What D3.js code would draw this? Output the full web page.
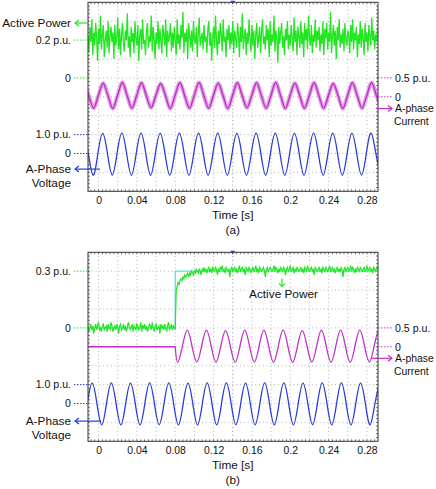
<!DOCTYPE html>
<html>
<head>
<meta charset="utf-8">
<script src="https://cdn.jsdelivr.net/npm/d3@7"></script>
<style>
  body { margin: 0; background: #fff; }
  text { font-family: Arial, "Liberation Sans", sans-serif; fill: #111; }
</style>
</head>
<body>
<div id="chart"></div>
<script>
/* CONSTANTS AND GLOBALS */
const width = 436,
  height = 489,
  plot = { left: 88, right: 378, height: 189 },
  panelTops = [2.3, 252.3],
  tStart = -0.011,
  tEnd = 0.2915;

const green = "#22e622", magenta = "#c22ec8", blue = "#2a3cd6", cyan = "#6adede";
const nameSize = 11.8, levelSize = 10.6, rightSize = 10.4, tickSize = 10.4;

/* DATA */
const timeTicks = [0, 0.04, 0.08, 0.12, 0.16, 0.2, 0.24, 0.28];
const timeTickLabels = ["0", "0.04", "0.08", "0.12", "0.16", "0.2", "0.24", "0.28"];
const gridTimes = [0, 0.02, 0.04, 0.06, 0.08, 0.1, 0.12, 0.14, 0.16, 0.18, 0.2, 0.22, 0.24, 0.26, 0.28];

// active power, p.u. x100, one sample per ms from t = -0.011 s
const powerStep = 0.001;
const powerA = [
  22,14,27,19,31,12,24,17,29,21,9,26,18,33,15,23,28,11,20,25,16,30,13,22,27,19,24,10,28,17,
  21,32,15,26,12,23,29,18,14,25,20,34,16,22,11,27,19,24,13,30,21,17,28,9,23,26,15,31,18,20,
  12,25,29,16,22,19,33,14,27,21,10,24,18,30,15,26,20,13,28,23,17,31,11,25,19,22,29,14,24,16,
  27,20,12,31,18,23,15,28,21,35,13,24,19,26,10,29,22,16,25,14,30,20,18,27,11,23,32,17,21,24,
  15,28,19,22,13,26,30,17,24,9,21,27,16,33,20,12,25,18,29,23,14,31,19,22,11,26,20,28,15,24,
  18,30,13,25,21,16,29,23,11,27,19,34,15,22,26,12,24,18,31,20,14,28,17,25,10,23,29,16,21,27,
  13,24,31,18,22,15,28,20,26,11,30,17,23,19,33,14,25,21,8,27,18,24,29,16,22,12,26,20,30,15,
  23,17,28,21,14,32,19,25,12,27,22,16,30,18,24,11,29,20,26,15,33,21,17,28,13,23,19,31,16,25,
  20,27,14,23,18,30,12,26,21,29,15,24,19,35,13,22,28,17,25,10,27,20,31,16,23,18,26,14,29,21,
  17,25,22,13,28,19,31,15,24,20,27,11,23,18,30,16,26,21,12,29,19,24,14,28,22,17,32,20,25,15,
  23,19,26
];
const powerB = [
  1,-2,0,2,-1,1,-3,0,2,-1, 1,3,-1,0,-2,1,2,-1,0,1, -2,2,0,-1,3,1,-2,0,1,-1,
  2,0,-3,1,2,-1,0,2,-1,1, -2,0,3,1,-1,0,2,-2,1,0, -1,2,1,-1,0,3,-2,1,0,2,
  -1,1,-2,0,2,1,-1,3,0,-2, 1,2,-1,0,1,-3,2,0,1,-1, 2,0,-2,1,3,-1,0,2,-1,1, 0,-1,
  20,22,24,23,25,26,25,27,26,28, 27,28,29,27,29,28,30,29,28,30, 29,31,30,29,31,30,28,31,30,32,
  30,31,29,31,32,30,31,29,32,31, 30,32,31,28,31,30,32,31,33,30, 31,29,32,31,30,31,27,31,32,30,
  31,32,30,31,29,31,33,30,31,32, 30,31,28,32,31,30,32,31,29,31, 32,30,31,33,30,31,29,32,31,30,
  31,32,30,27,31,32,30,31,32,31, 30,31,33,30,32,31,29,31,30,32, 31,30,32,31,28,31,32,30,31,33,
  30,31,32,29,31,30,32,31,30,31, 32,30,31,29,32,31,30,33,31,30, 31,32,30,31,28,32,31,30,31,32,
  30,31,29,32,31,30,32,31,30,31, 33,30,31,32,30,31,29,31,32,30, 31,30,32,31,27,31,32,30,31,32,
  30,31,33,30,32,31,29,31,30,32, 31,30,32,31,30,31,32,30,31,33, 30,31,32,30,31,29,32,31,30,32,31
];
// power reference step in (b)
const powerRefTimes = [-0.011, 0.08, 0.08, 0.2915];
const powerRefValues = [0, 0, 0.3, 0.3];

// quarter-period samples (every 5 ms), p.u.
const quarterStep = 0.005;
const currentAStart = -0.0152;
const currentA = [
  0.37,0.035,-0.30,0.035, 0.36,0.035,-0.31,0.035, 0.38,0.035,-0.30,0.035,
  0.37,0.035,-0.29,0.035, 0.35,0.035,-0.31,0.035, 0.37,0.035,-0.30,0.035,
  0.38,0.035,-0.30,0.035, 0.36,0.035,-0.31,0.035, 0.37,0.035,-0.29,0.035,
  0.37,0.035,-0.30,0.035, 0.38,0.035,-0.31,0.035, 0.36,0.035,-0.30,0.035,
  0.37,0.035,-0.30,0.035, 0.35,0.035,-0.31,0.035, 0.37,0.035,-0.30,0.035,
  0.37,0.035,-0.30
];
const voltageAStart = -0.0157;
const voltageA = [
  1.08,0,-1.15,0, 1.07,0,-1.14,0, 1.08,0,-1.15,0,
  1.08,0,-1.15,0, 1.07,0,-1.14,0, 1.08,0,-1.15,0,
  1.08,0,-1.14,0, 1.08,0,-1.15,0, 1.07,0,-1.15,0,
  1.08,0,-1.14,0, 1.08,0,-1.15,0, 1.07,0,-1.15,0,
  1.08,0,-1.14,0, 1.08,0,-1.15,0, 1.07,0,-1.14,0,
  1.08,0,-1.15
];
const currentBSwitch = 0.08;
const currentBStart = 0.0825;
const currentB = [
  -0.41,0.015,0.44,0.015, -0.40,0.015,0.44,0.015, -0.41,0.015,0.43,0.015,
  -0.41,0.015,0.44,0.015, -0.40,0.015,0.44,0.015, -0.41,0.015,0.44,0.015,
  -0.41,0.015,0.43,0.015, -0.40,0.015,0.44,0.015, -0.41,0.015,0.44,0.015,
  -0.41,0.015,0.44,0.015, -0.40,0.015,0.44,0.015
];
const voltageBStart = -0.0117;
const voltageB = [
  0,1.09,0,-1.13, 0,1.09,0,-1.13, 0,1.08,0,-1.13, 0,1.09,0,-1.12,
  0,1.09,0,-1.13, 0,1.08,0,-1.13, 0,1.09,0,-1.13, 0,1.09,0,-1.12,
  0,1.08,0,-1.13, 0,1.09,0,-1.13, 0,1.09,0,-1.13, 0,1.08,0,-1.12,
  0,1.09,0,-1.13, 0,1.09,0,-1.13, 0,1.08,0,-1.13, 0,1.09
];

const svg = d3.select("#chart").append("svg")
  .attr("width", width)
  .attr("height", height);

const xScale = d3.scaleLinear()
  .domain([tStart, tEnd])
  .range([plot.left, plot.right]);

const sampled = (arr, t0, step, k = 1) => arr.map((v, i) => ({ t: t0 + i * step, v: v * k }));

function leftArrow(g, x1, x2, y, color) {
  g.append("line").attr("x1", x1).attr("x2", x2).attr("y1", y).attr("y2", y)
    .attr("stroke", color).attr("stroke-width", 1.2);
  g.append("path").attr("d", `M${x1 + 4},${y - 3}L${x1},${y}L${x1 + 4},${y + 3}`)
    .attr("fill", "none").attr("stroke", color).attr("stroke-width", 1.2);
}
function rightArrow(g, x1, x2, y, color) {
  g.append("line").attr("x1", x1).attr("x2", x2).attr("y1", y).attr("y2", y)
    .attr("stroke", color).attr("stroke-width", 1.2);
  g.append("path").attr("d", `M${x2 - 4},${y - 3}L${x2},${y}L${x2 - 4},${y + 3}`)
    .attr("fill", "none").attr("stroke", color).attr("stroke-width", 1.2);
}
function levelLeft(g, y, label, color) {
  g.append("line").attr("x1", 74).attr("x2", plot.left).attr("y1", y).attr("y2", y)
    .attr("stroke", color).attr("stroke-dasharray", "1.5,1.5");
  g.append("text").attr("x", 71).attr("y", y).attr("dy", "0.35em")
    .attr("text-anchor", "end").attr("font-size", levelSize).text(label);
}
function levelRight(g, y, label, color) {
  g.append("line").attr("x1", plot.right).attr("x2", 392).attr("y1", y).attr("y2", y)
    .attr("stroke", color).attr("stroke-dasharray", "1.5,1.5");
  g.append("text").attr("x", 395).attr("y", y).attr("dy", "0.35em")
    .attr("font-size", levelSize).text(label);
}

function drawPanel(idx) {
  const top = panelTops[idx];
  const bottom = top + plot.height;
  const g = svg.append("g");

  const divY = d3.scaleLinear().domain([0, 10]).range([top, bottom]);
  const powerY = d3.scaleLinear().domain([0, 0.1]).range([divY(4), divY(3)]);
  const currentY = d3.scaleLinear().domain([0, 0.5]).range([divY(5), divY(4)]);
  const voltageY = d3.scaleLinear().domain([0, 1]).range([divY(8), divY(7)]);

  // clip
  const clipId = "clip" + idx;
  g.append("clipPath").attr("id", clipId).append("rect")
    .attr("x", plot.left).attr("y", top)
    .attr("width", plot.right - plot.left).attr("height", plot.height);

  // grid
  const grid = g.append("g").attr("stroke", "#b4b4b4").attr("stroke-dasharray", "1,2.8");
  grid.selectAll(".vg").data(gridTimes).join("line")
    .attr("x1", d => xScale(d)).attr("x2", d => xScale(d))
    .attr("y1", top).attr("y2", bottom)
    .attr("stroke", d => d === 0.14 ? "#8890b0" : "#b4b4b4");
  grid.selectAll(".hg").data(d3.range(1, 10)).join("line")
    .attr("x1", plot.left).attr("x2", plot.right)
    .attr("y1", d => divY(d)).attr("y2", d => divY(d));

  // frame minor ticks
  const ticks = g.append("g").attr("stroke", "#555").attr("stroke-width", 0.8);
  const tTicks = d3.range(-0.008, tEnd, 0.004);
  ticks.selectAll(".tt").data(tTicks).join("line")
    .attr("x1", d => xScale(d)).attr("x2", d => xScale(d))
    .attr("y1", top).attr("y2", top + 2);
  ticks.selectAll(".bt").data(tTicks).join("line")
    .attr("x1", d => xScale(d)).attr("x2", d => xScale(d))
    .attr("y1", bottom).attr("y2", bottom - 2);
  const yTicks = d3.range(0.2, 10, 0.2);
  ticks.selectAll(".lt").data(yTicks).join("line")
    .attr("x1", plot.left).attr("x2", plot.left + 2)
    .attr("y1", d => divY(d)).attr("y2", d => divY(d));
  ticks.selectAll(".rt").data(yTicks).join("line")
    .attr("x1", plot.right).attr("x2", plot.right - 2)
    .attr("y1", d => divY(d)).attr("y2", d => divY(d));

  const traces = g.append("g").attr("clip-path", `url(#${clipId})`);

  const lineGen = (yS, curve) => d3.line()
    .x(d => xScale(d.t))
    .y(d => yS(d.v))
    .curve(curve);

  if (idx === 0) {
    // current (noisy, fuzzy)
    const cur = sampled(currentA, currentAStart, quarterStep);
    traces.append("path").attr("d", lineGen(currentY, d3.curveMonotoneX)(cur))
      .attr("fill", "none").attr("stroke", "#d77ade").attr("stroke-width", 4).attr("opacity", 0.7);
    traces.append("path").attr("d", lineGen(currentY, d3.curveMonotoneX)(cur))
      .attr("fill", "none").attr("stroke", magenta).attr("stroke-width", 1.4);
    // voltage
    traces.append("path").attr("d", lineGen(voltageY, d3.curveNatural)(sampled(voltageA, voltageAStart, quarterStep)))
      .attr("fill", "none").attr("stroke", blue).attr("stroke-width", 1.3);
    // active power
    traces.append("path").attr("d", lineGen(powerY, d3.curveLinear)(sampled(powerA, tStart, powerStep, 0.01)))
      .attr("fill", "none").attr("stroke", green).attr("stroke-width", 1.3);
  } else {
    // current
    const pre = [{ t: tStart, v: 0 }, { t: currentBSwitch, v: 0 }];
    traces.append("path").attr("d", lineGen(currentY, d3.curveLinear)(pre))
      .attr("fill", "none").attr("stroke", magenta).attr("stroke-width", 1.6);
    const cur = [{ t: currentBSwitch, v: 0 }].concat(sampled(currentB, currentBStart, quarterStep));
    traces.append("path").attr("d", lineGen(currentY, d3.curveNatural)(cur))
      .attr("fill", "none").attr("stroke", magenta).attr("stroke-width", 1.3);
    // voltage
    traces.append("path").attr("d", lineGen(voltageY, d3.curveNatural)(sampled(voltageB, voltageBStart, quarterStep)))
      .attr("fill", "none").attr("stroke", blue).attr("stroke-width", 1.3);
    // reference
    const ref = powerRefTimes.map((t, i) => ({ t, v: powerRefValues[i] }));
    traces.append("path").attr("d", lineGen(powerY, d3.curveLinear)(ref))
      .attr("fill", "none").attr("stroke", cyan).attr("stroke-width", 1.3);
    // active power
    traces.append("path").attr("d", lineGen(powerY, d3.curveLinear)(sampled(powerB, tStart, powerStep, 0.01)))
      .attr("fill", "none").attr("stroke", green).attr("stroke-width", 1.2);
  }

  // frame
  g.append("rect").attr("x", plot.left).attr("y", top)
    .attr("width", plot.right - plot.left).attr("height", plot.height)
    .attr("fill", "none").attr("stroke", "#333").attr("stroke-width", 1);

  // trigger marker
  g.append("path")
    .attr("d", `M${xScale(0.14) - 2.5},${top - 1.5}L${xScale(0.14) + 2.5},${top - 1.5}L${xScale(0.14)},${top + 2}Z`)
    .attr("fill", blue);

  // x axis
  const xAxis = d3.axisBottom(xScale)
    .tickValues(timeTicks)
    .tickFormat((d, i) => timeTickLabels[i])
    .tickSize(0)
    .tickPadding(5);
  const axisG = g.append("g").attr("transform", `translate(0,${bottom})`).call(xAxis);
  axisG.select(".domain").remove();
  axisG.selectAll("text").attr("font-size", tickSize).attr("font-family", "Arial, 'Liberation Sans', sans-serif").attr("fill", "#111");

  g.append("text").attr("x", xScale(0.14)).attr("y", bottom + 28)
    .attr("text-anchor", "middle").attr("font-size", nameSize).text("Time [s]");
  g.append("text").attr("x", xScale(0.14)).attr("y", bottom + 43)
    .attr("text-anchor", "middle").attr("font-size", nameSize).text(idx === 0 ? "(a)" : "(b)");

  // left labels
  if (idx === 0) {
    g.append("text").attr("x", 71).attr("y", 23).attr("dy", "0.35em")
      .attr("text-anchor", "end").attr("font-size", nameSize).text("Active Power");
    leftArrow(g, 75, plot.left, 23, green);
    levelLeft(g, powerY(0.2), "0.2 p.u.", green);
  } else {
    levelLeft(g, powerY(0.3), "0.3 p.u.", green);
    g.append("text").attr("x", 283.5).attr("y", top + 42).attr("dy", "0.35em")
      .attr("text-anchor", "middle").attr("font-size", nameSize).text("Active Power");
    g.append("line").attr("x1", 282).attr("x2", 282).attr("y1", top + 26).attr("y2", top + 34)
      .attr("stroke", green).attr("stroke-width", 1.2);
    g.append("path").attr("d", `M${279},${top + 31}L282,${top + 34}L285,${top + 31}`)
      .attr("fill", "none").attr("stroke", green).attr("stroke-width", 1.2);
  }
  levelLeft(g, powerY(0), "0", green);
  levelLeft(g, voltageY(1), "1.0 p.u.", blue);
  levelLeft(g, voltageY(0), "0", blue);
  const vArrowY = idx === 0 ? top + 166.8 : top + 168.8;
  g.append("text").attr("x", 71).attr("y", vArrowY).attr("dy", "0.35em")
    .attr("text-anchor", "end").attr("font-size", nameSize).text("A-Phase");
  g.append("text").attr("x", 71).attr("y", vArrowY + 14).attr("dy", "0.35em")
    .attr("text-anchor", "end").attr("font-size", nameSize).text("Voltage");
  leftArrow(g, 75, idx === 0 ? 100 : 101, vArrowY, blue);

  // right labels
  levelRight(g, currentY(0.5), "0.5 p.u.", magenta);
  levelRight(g, currentY(0), "0", magenta);
  const cArrowY = idx === 0 ? top + 106.3 : top + 106;
  rightArrow(g, idx === 0 ? 376 : 371, 392, cArrowY, magenta);
  g.append("text").attr("x", 395).attr("y", cArrowY).attr("dy", "0.35em")
    .attr("font-size", rightSize).text("A-phase");
  g.append("text").attr("x", 394).attr("y", cArrowY + 13).attr("dy", "0.35em")
    .attr("font-size", rightSize).text("Current");
}

drawPanel(0);
drawPanel(1);
</script>
</body>
</html>
